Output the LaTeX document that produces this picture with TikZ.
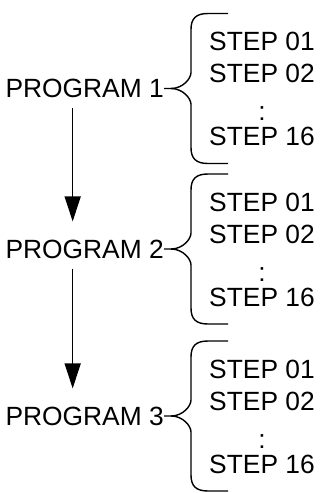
\documentclass[tikz,border=0pt]{standalone}
\usepackage{fontspec}
\setmainfont{Liberation Sans}
\usepackage{tikz}
\usetikzlibrary{arrows.meta}

\begin{document}
\begin{tikzpicture}[
            x=0.03cm, y=-0.03cm,              % 1 unidad = 1 px de la figura
            every node/.style={font=\fontsize{22.5}{26}\selectfont},
            prog/.style={
                inner sep=0pt,
                anchor=east
            },
            stepname/.style={
                inner sep=0pt,
                anchor=base west
            },
            dots/.style={
                inner sep=0pt,
                anchor=base
            },
            curly/.style={
                draw,
                line width=1.2pt
            },
            flow/.style={
                draw,
                line width=1.2pt,
                -{Triangle[width=0.48cm, length=0.75cm]},
                shorten <=0.3cm,
                shorten >=0.54cm
            }
        ]
            \useasboundingbox (0,0) rectangle (320,493);

            % --- PROGRAMAS ---
            \node [prog] (prog1) at (164,88.5) {PROGRAM 1};
            \node [prog] (prog2) at (164,249) {PROGRAM 2};
            \node [prog] (prog3) at (164,416) {PROGRAM 3};

            % --- PASOS ---
            \node [stepname] (s1a) at (209,50) {STEP 01};
            \node [stepname] (s1b) at (209,82) {STEP 02};
            \node [dots]     (s1c) at (262,120) {:};
            \node [stepname] (s1d) at (209,145) {STEP 16};

            \node [stepname] (s2a) at (209,211) {STEP 01};
            \node [stepname] (s2b) at (209,243) {STEP 02};
            \node [dots]     (s2c) at (262,281) {:};
            \node [stepname] (s2d) at (209,306) {STEP 16};

            \node [stepname] (s3a) at (209,378) {STEP 01};
            \node [stepname] (s3b) at (209,410) {STEP 02};
            \node [dots]     (s3c) at (262,448) {:};
            \node [stepname] (s3d) at (209,473) {STEP 16};

            % --- LLAVES ---
            \draw [curly] (prog1.east) -- ++(7,0) coordinate (tip1)
                .. controls +(12,0) and +(0,6) .. ++(20,-16) -- ++(0,-43)
                .. controls +(0,-11) and +(-12,0) .. ++(17,-16) -- ++(20,0);
            \draw [curly] (tip1)
                .. controls +(12,0) and +(0,-6) .. ++(20,16) -- ++(0,43)
                .. controls +(0,11) and +(-12,0) .. ++(17,16) -- ++(20,0);

            \draw [curly] (prog2.east) -- ++(7,0) coordinate (tip2)
                .. controls +(12,0) and +(0,6) .. ++(20,-16) -- ++(0,-43)
                .. controls +(0,-11) and +(-12,0) .. ++(17,-16) -- ++(20,0);
            \draw [curly] (tip2)
                .. controls +(12,0) and +(0,-6) .. ++(20,16) -- ++(0,43)
                .. controls +(0,11) and +(-12,0) .. ++(17,16) -- ++(20,0);

            \draw [curly] (prog3.east) -- ++(7,0) coordinate (tip3)
                .. controls +(12,0) and +(0,6) .. ++(20,-16) -- ++(0,-43)
                .. controls +(0,-11) and +(-12,0) .. ++(17,-16) -- ++(20,0);
            \draw [curly] (tip3)
                .. controls +(12,0) and +(0,-6) .. ++(20,16) -- ++(0,43)
                .. controls +(0,11) and +(-12,0) .. ++(17,16) -- ++(20,0);

            % --- FLECHAS ---
            \path [flow] ([xshift=-0.36cm]prog1.south) -- ([xshift=-0.36cm]prog2.north);
            \path [flow] ([xshift=-0.36cm]prog2.south) -- ([xshift=-0.36cm]prog3.north);
        \end{tikzpicture}
\end{document}
